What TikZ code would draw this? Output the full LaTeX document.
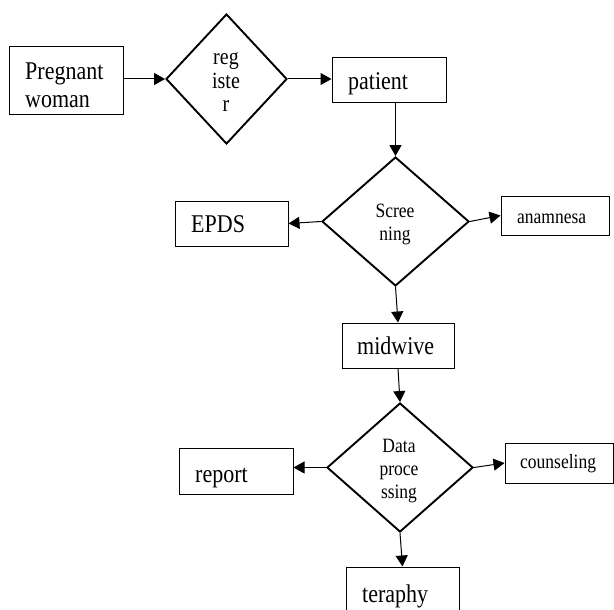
\documentclass[tikz,border=0pt]{standalone}
\usepackage{fontspec}
\setmainfont{Liberation Serif}
\usetikzlibrary{shapes.geometric,arrows.meta,calc}
\newcommand{\vstretch}[1]{\scalebox{1}[1.16]{#1}}
\begin{document}
\begin{tikzpicture}[x=1pt,y=-1pt,
  box/.style={draw, line width=1pt, rectangle, inner sep=0pt},
  dia/.style={draw, line width=1.9pt, diamond, inner sep=0pt, aspect=1},
  conn/.style={line width=1pt, -{Triangle[length=11pt,width=12pt]}},
  big/.style={font=\fontsize{22}{26}\selectfont, inner sep=0pt},
  mid/.style={font=\fontsize{20}{24}\selectfont, inner sep=0pt},
  small/.style={font=\fontsize{17.5}{21}\selectfont, inner sep=0pt},
]
\clip (0,0) rectangle (614,610);
\fill[white] (0,0) rectangle (614,610);

% boxes
\node[box, minimum width=114pt, minimum height=68pt] (pw) at (66,81) {};
\node[box, minimum width=114pt, minimum height=45pt] (pat) at (389,80.5) {};
\node[box, minimum width=113pt, minimum height=45pt] (epds) at (231.5,223.5) {};
\node[box, minimum width=108pt, minimum height=39pt] (ana) at (555,215.5) {};
\node[box, minimum width=112pt, minimum height=45pt] (midw) at (398,345.5) {};
\node[box, minimum width=114pt, minimum height=46pt] (rep) at (236,471) {};
\node[box, minimum width=108pt, minimum height=40pt] (cou) at (559,463) {};
\node[box, minimum width=113pt, minimum height=46pt] (ter) at (402.5,590) {};

% diamonds
\node[dia, minimum width=121pt, minimum height=130pt] (reg) at (226.5,79) {};
\node[dia, minimum width=147pt, minimum height=129pt] (scr) at (395.5,221.5) {};
\node[dia, minimum width=146pt, minimum height=129pt] (dp) at (400,467.5) {};

% texts
\node[big, anchor=base west] (pwt1) at (25,80) {\vstretch{Pregnant}};
\node[big, anchor=base west] (pwt2) at (25,108) {\vstretch{woman}};
\node[big, anchor=base west] (patt) at (348,90) {\vstretch{patient}};
\node[big, anchor=base west] (epdst) at (191,232) {\vstretch{EPDS}};
\node[small, anchor=base west] (anat) at (517,223) {\vstretch{anamnesa}};
\node[big, anchor=base west] (midwt) at (357,354) {\vstretch{midwive}};
\node[big, anchor=base west] (rept) at (195,482) {\vstretch{report}};
\node[small, anchor=base west] (cout) at (520,468) {\vstretch{counseling}};
\node[big, anchor=base west] (tert) at (362,602) {\vstretch{teraphy}};

\node[mid, anchor=base] (regt1) at (226,65) {\vstretch{reg}};
\node[mid, anchor=base] (regt2) at (226,88.5) {\vstretch{iste}};
\node[mid, anchor=base] (regt3) at (226,112) {\vstretch{r}};

\node[small, anchor=base] (scrt1) at (395,217) {\vstretch{Scree}};
\node[small, anchor=base] (scrt2) at (395,240) {\vstretch{ning}};

\node[small, anchor=base] (dpt1) at (399,452) {\vstretch{Data}};
\node[small, anchor=base] (dpt2) at (399,475) {\vstretch{proce}};
\node[small, anchor=base] (dpt3) at (399,498) {\vstretch{ssing}};

% connectors
\draw[conn] (pw.east |- reg.west) -- (reg.west);
\draw[conn] (reg.east) -- (reg.east -| pat.west);
\draw[conn] (pat.south -| scr.north) -- (scr.north);
\draw[conn] (scr.west) -- (epds.east);
\draw[conn] (scr.east) -- (ana.west);
\draw[conn] (scr.south) -- (midw.north);
\draw[conn] (midw.south) -- (dp.north);
\draw[conn] (dp.west) -- (dp.west -| rep.east);
\draw[conn] (dp.east) -- (cou.west);
\draw[conn] (dp.south) -- (ter.north);
\end{tikzpicture}
\end{document}
